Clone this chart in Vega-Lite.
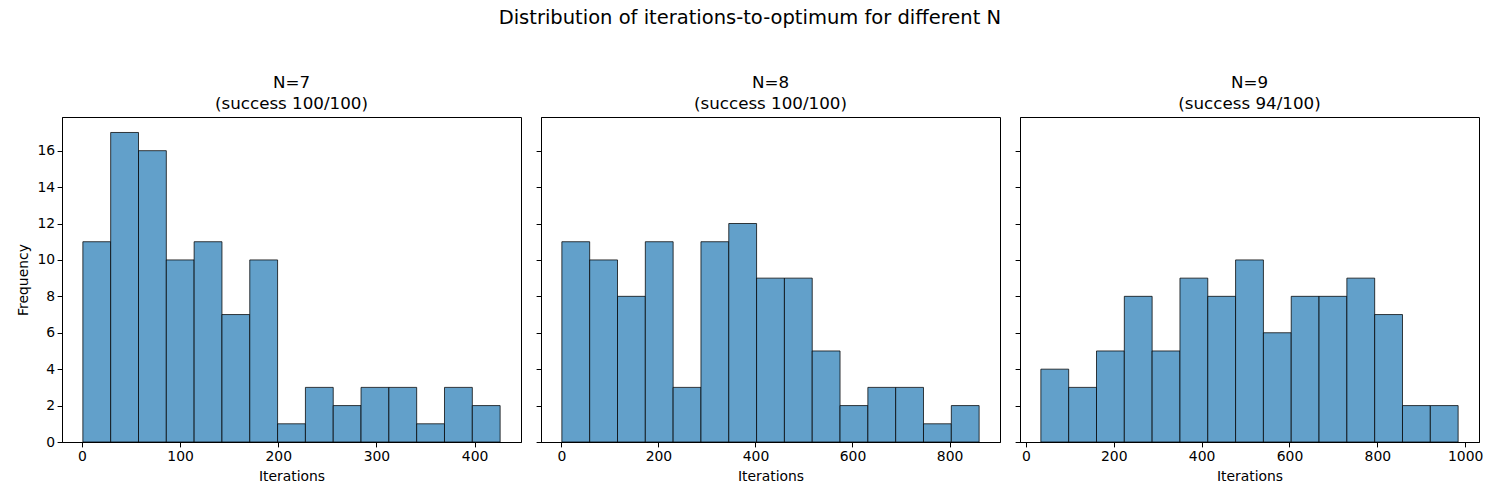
{
  "$schema": "https://vega.github.io/schema/vega-lite/v6.json",
  "padding": {"left": 16, "top": 8, "right": 14, "bottom": 8},
  "background": "white",
  "bounds": "flush",
  "spacing": 20,
  "title": {
    "text": "Distribution of iterations-to-optimum for different N",
    "fontSize": 19.5,
    "fontWeight": "normal",
    "color": "black",
    "anchor": "middle",
    "offset": 46
  },
  "config": {
    "font": "DejaVu Sans",
    "view": {"stroke": "black", "strokeWidth": 1},
    "axis": {
      "grid": false,
      "domainColor": "black",
      "tickColor": "black",
      "labelColor": "black",
      "titleColor": "black",
      "labelFontSize": 13.9,
      "titleFontSize": 13.9,
      "titleFontWeight": "normal",
      "tickSize": 4.9,
      "labelPadding": 2.5,
      "titlePadding": 6
    },
    "title": {"fontSize": 16.7, "fontWeight": "normal", "color": "black", "lineHeight": 21, "offset": 4}
  },
  "data": {
    "values": [
      {"N": 7, "lo": 1, "hi": 29.33, "count": 11},
      {"N": 7, "lo": 29.33, "hi": 57.67, "count": 17},
      {"N": 7, "lo": 57.67, "hi": 86, "count": 16},
      {"N": 7, "lo": 86, "hi": 114.33, "count": 10},
      {"N": 7, "lo": 114.33, "hi": 142.67, "count": 11},
      {"N": 7, "lo": 142.67, "hi": 171, "count": 7},
      {"N": 7, "lo": 171, "hi": 199.33, "count": 10},
      {"N": 7, "lo": 199.33, "hi": 227.67, "count": 1},
      {"N": 7, "lo": 227.67, "hi": 256, "count": 3},
      {"N": 7, "lo": 256, "hi": 284.33, "count": 2},
      {"N": 7, "lo": 284.33, "hi": 312.67, "count": 3},
      {"N": 7, "lo": 312.67, "hi": 341, "count": 3},
      {"N": 7, "lo": 341, "hi": 369.33, "count": 1},
      {"N": 7, "lo": 369.33, "hi": 397.67, "count": 3},
      {"N": 7, "lo": 397.67, "hi": 426, "count": 2},
      {"N": 8, "lo": 1, "hi": 58.33, "count": 11},
      {"N": 8, "lo": 58.33, "hi": 115.67, "count": 10},
      {"N": 8, "lo": 115.67, "hi": 173, "count": 8},
      {"N": 8, "lo": 173, "hi": 230.33, "count": 11},
      {"N": 8, "lo": 230.33, "hi": 287.67, "count": 3},
      {"N": 8, "lo": 287.67, "hi": 345, "count": 11},
      {"N": 8, "lo": 345, "hi": 402.33, "count": 12},
      {"N": 8, "lo": 402.33, "hi": 459.67, "count": 9},
      {"N": 8, "lo": 459.67, "hi": 517, "count": 9},
      {"N": 8, "lo": 517, "hi": 574.33, "count": 5},
      {"N": 8, "lo": 574.33, "hi": 631.67, "count": 2},
      {"N": 8, "lo": 631.67, "hi": 689, "count": 3},
      {"N": 8, "lo": 689, "hi": 746.33, "count": 3},
      {"N": 8, "lo": 746.33, "hi": 803.67, "count": 1},
      {"N": 8, "lo": 803.67, "hi": 861, "count": 2},
      {"N": 9, "lo": 34, "hi": 97.33, "count": 4},
      {"N": 9, "lo": 97.33, "hi": 160.67, "count": 3},
      {"N": 9, "lo": 160.67, "hi": 224, "count": 5},
      {"N": 9, "lo": 224, "hi": 287.33, "count": 8},
      {"N": 9, "lo": 287.33, "hi": 350.67, "count": 5},
      {"N": 9, "lo": 350.67, "hi": 414, "count": 9},
      {"N": 9, "lo": 414, "hi": 477.33, "count": 8},
      {"N": 9, "lo": 477.33, "hi": 540.67, "count": 10},
      {"N": 9, "lo": 540.67, "hi": 604, "count": 6},
      {"N": 9, "lo": 604, "hi": 667.33, "count": 8},
      {"N": 9, "lo": 667.33, "hi": 730.67, "count": 8},
      {"N": 9, "lo": 730.67, "hi": 794, "count": 9},
      {"N": 9, "lo": 794, "hi": 857.33, "count": 7},
      {"N": 9, "lo": 857.33, "hi": 920.67, "count": 2},
      {"N": 9, "lo": 920.67, "hi": 984, "count": 2}
    ]
  },
  "hconcat": [
    {
      "width": 459,
      "height": 325,
      "title": {"text": ["N=7", "(success 100/100)"]},
      "transform": [{"filter": "datum.N == 7"}],
      "mark": {"type": "rect", "fill": "#62a0ca", "stroke": "black", "strokeOpacity": 0.75, "strokeWidth": 1},
      "encoding": {
        "x": {
          "field": "lo",
          "type": "quantitative",
          "scale": {"domain": [-20.25, 447.25], "nice": false, "zero": false},
          "axis": {"values": [0, 100, 200, 300, 400], "format": "d", "title": "Iterations"}
        },
        "x2": {"field": "hi"},
        "y": {
          "field": "count",
          "type": "quantitative",
          "scale": {"domain": [0, 17.85], "nice": false},
          "axis": {"values": [0, 2, 4, 6, 8, 10, 12, 14, 16], "title": "Frequency"}
        },
        "y2": {"datum": 0}
      }
    },
    {
      "width": 459,
      "height": 325,
      "title": {"text": ["N=8", "(success 100/100)"]},
      "transform": [{"filter": "datum.N == 8"}],
      "mark": {"type": "rect", "fill": "#62a0ca", "stroke": "black", "strokeOpacity": 0.75, "strokeWidth": 1},
      "encoding": {
        "x": {
          "field": "lo",
          "type": "quantitative",
          "scale": {"domain": [-42, 904], "nice": false, "zero": false},
          "axis": {"values": [0, 200, 400, 600, 800], "format": "d", "title": "Iterations"}
        },
        "x2": {"field": "hi"},
        "y": {
          "field": "count",
          "type": "quantitative",
          "scale": {"domain": [0, 17.85], "nice": false},
          "axis": {"values": [0, 2, 4, 6, 8, 10, 12, 14, 16], "labels": false, "title": null}
        },
        "y2": {"datum": 0}
      }
    },
    {
      "width": 459,
      "height": 325,
      "title": {"text": ["N=9", "(success 94/100)"]},
      "transform": [{"filter": "datum.N == 9"}],
      "mark": {"type": "rect", "fill": "#62a0ca", "stroke": "black", "strokeOpacity": 0.75, "strokeWidth": 1},
      "encoding": {
        "x": {
          "field": "lo",
          "type": "quantitative",
          "scale": {"domain": [-13.5, 1031.5], "nice": false, "zero": false},
          "axis": {"values": [0, 200, 400, 600, 800, 1000], "format": "d", "title": "Iterations"}
        },
        "x2": {"field": "hi"},
        "y": {
          "field": "count",
          "type": "quantitative",
          "scale": {"domain": [0, 17.85], "nice": false},
          "axis": {"values": [0, 2, 4, 6, 8, 10, 12, 14, 16], "labels": false, "title": null}
        },
        "y2": {"datum": 0}
      }
    }
  ]
}
